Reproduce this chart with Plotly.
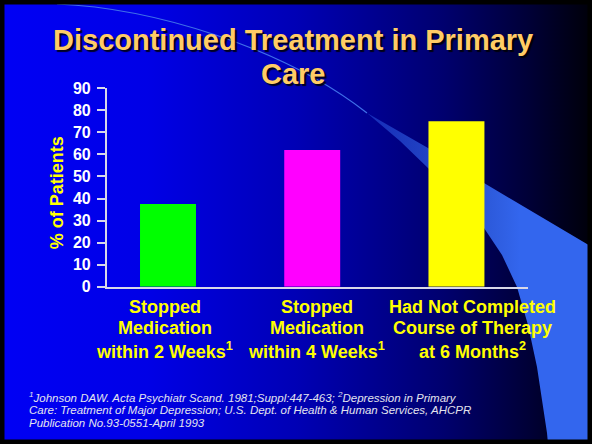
import base64
import plotly.graph_objects as go

# ---------------- data ----------------
categories = [
    "Stopped<br>Medication<br>within 2 Weeks<sup>1</sup>",
    "Stopped<br>Medication<br>within 4 Weeks<sup>1</sup>",
    "Had Not Completed<br>Course of Therapy<br>at 6 Months<sup>2</sup>",
]
values = [37.5, 62, 75]
bar_colors = ["#00FF00", "#FF00FF", "#FFFF00"]
y_ticks = [0, 10, 20, 30, 40, 50, 60, 70, 80, 90]
title_lines = ["Discontinued Treatment in Primary", "Care"]
y_title = "% of Patients"
footnote_lines = [
    "<sup>1</sup>Johnson DAW. Acta Psychiatr Scand. 1981;Suppl:447-463; <sup>2</sup>Depression in Primary",
    "Care: Treatment of Major Depression; U.S. Dept. of Health & Human Services, AHCPR",
    "Publication No.93-0551-April 1993",
]

# ---------------- layout constants ----------------
W, H = 592, 444
FONT = "Liberation Sans, Arial, Helvetica, sans-serif"
x_pos = list(range(len(categories)))
label_xshift = [-3.5, 4.3, 16.3]
label_line_y = [306.7, 328.3, 350.0]
title_line_y = [39.5, 73.5]
foot_line_y = [396.5, 409.5, 423.0]


def py(pix):
    return 1 - pix / H


def px(pix):
    return pix / W


# background slide (gradient, swoosh, frame)
svg = f"""<svg xmlns="http://www.w3.org/2000/svg" width="{W}" height="{H}" viewBox="0 0 {W} {H}" preserveAspectRatio="none">
<defs>
<linearGradient id="bg" x1="0" y1="0" x2="1" y2="0">
<stop offset="0" stop-color="#0000F5"/>
<stop offset="0.25" stop-color="#0000E6"/>
<stop offset="0.5" stop-color="#0000B5"/>
<stop offset="0.75" stop-color="#00006E"/>
<stop offset="0.9" stop-color="#000034"/>
<stop offset="1" stop-color="#000008"/>
</linearGradient>
<linearGradient id="sw" gradientUnits="userSpaceOnUse" x1="360" y1="0" x2="520" y2="0">
<stop offset="0" stop-color="#3366EE" stop-opacity="0.4"/>
<stop offset="1" stop-color="#3366EE" stop-opacity="1"/>
</linearGradient>
</defs>
<rect width="{W}" height="{H}" fill="url(#bg)"/>
<path d="M 57 4 C 150 8, 280 45, 367 113" fill="none" stroke="#3F6FE8" stroke-width="1.2"/>
<path d="M 367 113 L 428 148 L 484 183 L 592 247 L 592 444 L 548 444 L 547 433 L 542 400 L 537 367 L 528 325 L 517 287 L 502 255 L 484 228 L 456 196 L 428 168 L 400 141 Z" fill="url(#sw)"/>
<rect x="2" y="2" width="{W-4}" height="{H-4}" fill="none" stroke="#000" stroke-width="5"/>
</svg>"""
bg_uri = "data:image/svg+xml;base64," + base64.b64encode(svg.encode()).decode()

fig = go.Figure()
fig.add_trace(go.Bar(
    x=x_pos, y=values, width=0.388,
    marker=dict(color=bar_colors, line=dict(width=0)),
    hoverinfo="skip",
))

axis_col = "#D8D8E8"
fig.update_layout(
    template="none",
    width=W, height=H, autosize=False,
    margin=dict(l=0, r=0, t=0, b=0, pad=0),
    paper_bgcolor="#000000",
    plot_bgcolor="rgba(0,0,0,0)",
    showlegend=False,
    font=dict(family=FONT),
    images=[dict(source=bg_uri, xref="paper", yref="paper", x=0, y=1,
                 sizex=1, sizey=1, xanchor="left", yanchor="top",
                 sizing="stretch", layer="below")],
    xaxis=dict(
        domain=[px(106.7), px(527.7)], range=[-0.425, 2.494],
        showline=True, linecolor=axis_col, linewidth=1.5,
        showgrid=False, zeroline=False, showticklabels=False, ticks="",
        fixedrange=True, automargin=False,
    ),
    yaxis=dict(
        domain=[py(286.7), py(88.3)], range=[0, 90],
        tickvals=y_ticks, ticks="outside", ticklen=8, tickwidth=1.5,
        tickcolor=axis_col, showline=True, linecolor=axis_col, linewidth=1.5,
        showgrid=False, zeroline=False, ticklabelstandoff=3,
        tickfont=dict(family=FONT, size=16, color="#FFFFFF", weight="bold"),
        fixedrange=True, automargin=False,
    ),
)

ann = []
for i, line in enumerate(title_lines):
    ann.append(dict(
        text=line, x=px(293), y=py(title_line_y[i]), xref="paper", yref="paper",
        xanchor="center", yanchor="middle", showarrow=False,
        font=dict(family=FONT, size=29, color="#FFCC66", weight="bold",
                  shadow="2px 2px 1px rgba(0,0,0,0.85)"),
    ))

ann.append(dict(
    text=y_title, x=px(56.7), y=py(192.5), xref="paper", yref="paper",
    xanchor="center", yanchor="middle", textangle=-90, showarrow=False,
    font=dict(family=FONT, size=18, color="#FFFF00", weight="bold"),
))

for i, cat in enumerate(categories):
    for j, line in enumerate(cat.split("<br>")):
        ann.append(dict(
            text=line, x=x_pos[i], xref="x", xshift=label_xshift[i],
            y=py(label_line_y[j]), yref="paper",
            xanchor="center", yanchor="middle", showarrow=False,
            font=dict(family=FONT, size=18, color="#FFFF00", weight="bold"),
        ))

for j, line in enumerate(footnote_lines):
    ann.append(dict(
        text=line, x=px(27), y=py(foot_line_y[j]), xref="paper", yref="paper",
        xanchor="left", yanchor="middle", showarrow=False,
        font=dict(family=FONT, size=11.5, color="#E4E4EE", style="italic"),
    ))

fig.update_layout(annotations=ann)
fig.write_html(
    "out.html",
    config={"displayModeBar": False},
    post_script="document.body.style.margin='0';document.body.style.overflow='hidden';",
)
